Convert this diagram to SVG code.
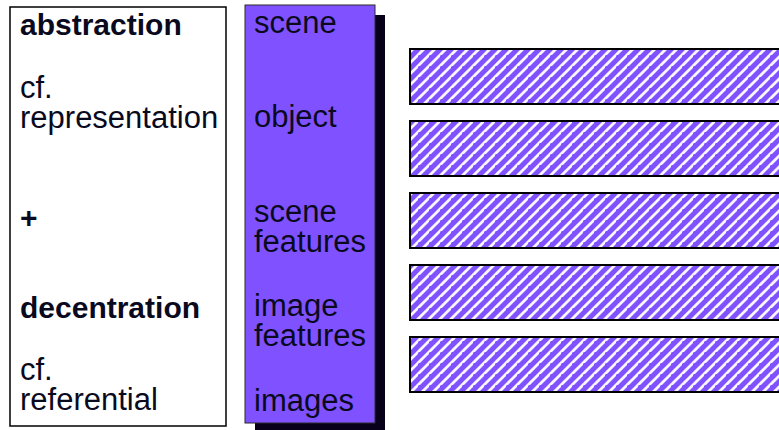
<svg xmlns="http://www.w3.org/2000/svg" width="779" height="430" viewBox="0 0 779 430">
  <style>
    text { font-family: "Liberation Sans", Arial, sans-serif; font-size: 31px; fill: #0a0a1e; }
    .b { font-weight: bold; font-size: 30px; }
    .frame { fill: #ffffff; stroke: #000000; stroke-width: 1.5; }
    .level { fill: #8052ff; stroke: #2a2a2a; stroke-width: 1; }
    .shadow { fill: #08001a; }
    .band { fill: url(#hatch); stroke: #000000; stroke-width: 2; }
  </style>
  <defs>
    <pattern id="hatch" patternUnits="userSpaceOnUse" width="11" height="11">
      <rect width="11" height="11" fill="#8052ff"/>
      <path d="M-1,12 L12,-1 M-6.5,5.5 L5.5,-6.5 M5.5,16.5 L16.5,5.5" stroke="#ffffff" stroke-width="2.8" opacity="0.95"/>
    </pattern>
  </defs>

  <g id="concepts">
    <rect class="frame" x="10" y="7" width="216" height="419"/>
    <text class="b" x="20" y="35">abstraction</text>
    <text x="20" y="98">cf.</text>
    <text x="20" y="128">representation</text>
    <text class="b" x="20" y="228">+</text>
    <text class="b" x="20" y="318">decentration</text>
    <text x="20" y="380">cf.</text>
    <text x="20" y="410">referential</text>
  </g>

  <g id="levels">
    <rect class="shadow" x="255" y="15" width="130" height="418"/>
    <rect class="level" x="245" y="5" width="130" height="418"/>
    <text x="254" y="33">scene</text>
    <text x="254" y="127">object</text>
    <text x="254" y="222">scene</text>
    <text x="254" y="252">features</text>
    <text x="254" y="316">image</text>
    <text x="254" y="346">features</text>
    <text x="254" y="411">images</text>
  </g>

  <g id="band-scene"><rect class="band" x="410" y="49" width="400" height="55"/></g>
  <g id="band-object"><rect class="band" x="410" y="121" width="400" height="55"/></g>
  <g id="band-scene-features"><rect class="band" x="410" y="193" width="400" height="55"/></g>
  <g id="band-image-features"><rect class="band" x="410" y="265" width="400" height="55"/></g>
  <g id="band-images"><rect class="band" x="410" y="337" width="400" height="55"/></g>

  <g id="connectors"/>
</svg>
